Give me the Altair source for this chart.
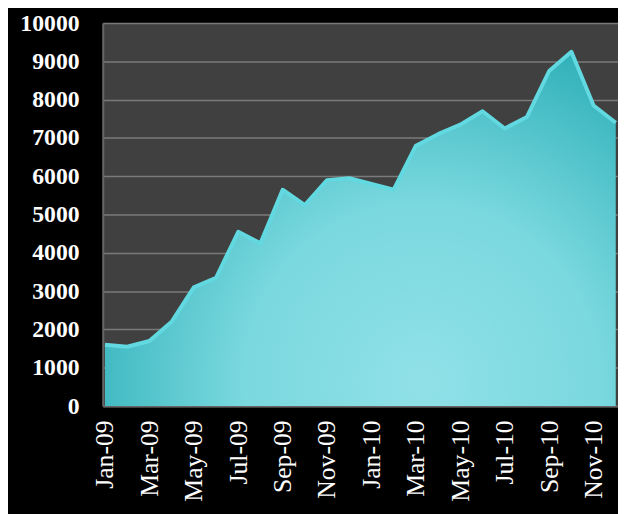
import altair as alt
import pandas as pd

months = ["Jan-09", "Feb-09", "Mar-09", "Apr-09", "May-09", "Jun-09",
          "Jul-09", "Aug-09", "Sep-09", "Oct-09", "Nov-09", "Dec-09",
          "Jan-10", "Feb-10", "Mar-10", "Apr-10", "May-10", "Jun-10",
          "Jul-10", "Aug-10", "Sep-10", "Oct-10", "Nov-10", "Dec-10"]
values = [1600, 1550, 1700, 2200, 3100, 3350, 4550, 4250, 5650, 5250, 5900, 5950,
          5800, 5650, 6800, 7100, 7350, 7700, 7250, 7550, 8750, 9250, 7850, 7400]
tick_months = months[::2]
y_ticks = list(range(0, 10001, 1000))

df = pd.DataFrame({"month": months, "value": values})

x_enc = alt.X(
    "month:N", sort=months, title=None,
    scale=alt.Scale(type="point", padding=0.1),
    axis=alt.Axis(values=tick_months, labelAngle=-90, labelFont="Liberation Serif",
                  labelFontSize=26, labelColor="white", labelPadding=14, ticks=False,
                  labelOverlap=False, domain=True, domainColor="#666666", domainWidth=2,
                  grid=False),
)
y_enc = alt.Y(
    "value:Q", title=None,
    scale=alt.Scale(domain=[0, 10000], nice=False),
    axis=alt.Axis(values=y_ticks, format="d", labelFont="Liberation Serif",
                  labelFontWeight="bold", labelFontSize=24, labelColor="white",
                  labelPadding=24, ticks=False, labelOverlap=False,
                  domain=True, domainColor="#666666", domainWidth=2,
                  grid=True, gridColor="#7a7a7a", gridWidth=1.5),
)

fill = {
    "gradient": "radial",
    "x1": 0.62, "y1": 0.8, "r1": 0,
    "x2": 0.62, "y2": 0.8, "r2": 0.78,
    "stops": [
        {"offset": 0, "color": "#90e1e7"},
        {"offset": 0.45, "color": "#7ad8df"},
        {"offset": 1, "color": "#22a9b1"},
    ],
}

base = alt.Chart(df).encode(x=x_enc, y=y_enc)
area = base.mark_area(color=fill, opacity=1)
rim = base.mark_line(color="#62d9e1", strokeWidth=4, strokeJoin="round")

chart = (area + rim).properties(
    width=522, height=388,
    autosize=alt.AutoSizeParams(type="none"),
    padding={"left": 96, "top": 12, "right": 0, "bottom": 106},
    background="black",
).configure_view(fill="#404040", stroke=None)

chart.save("out.html", embed_options={"renderer": "svg", "actions": False})
